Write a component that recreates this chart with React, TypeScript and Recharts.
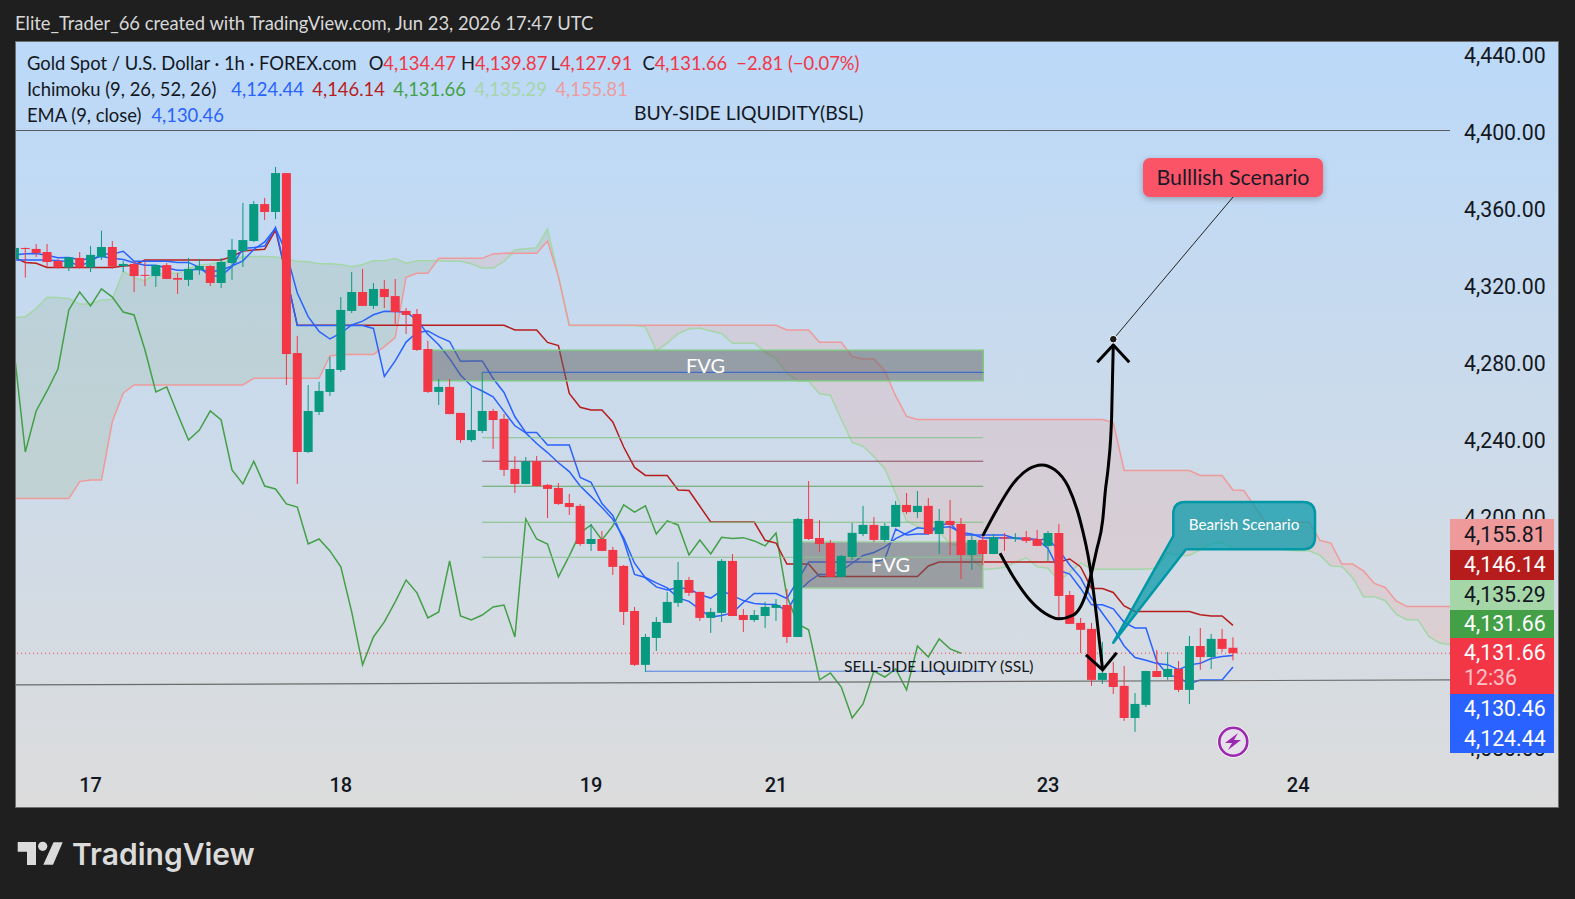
import { ComposedChart, Area, Bar, Line, XAxis, YAxis, ReferenceArea, ReferenceLine, ReferenceDot } from 'recharts';

const opens = [4336.5,4342.2,4341.7,4340.1,4335.4,4332.0,4337.0,4332.0,4337.5,4342.7,
  4332.8,4333.9,4328.2,4327.6,4333.3,4326.6,4325.6,4330.8,4332.8,4324.0,
  4334.4,4340.6,4345.8,4365.0,4360.9,4381.1,4287.6,4236.2,4257.0,4267.4,
  4278.8,4309.5,4319.3,4312.1,4320.9,4317.2,4309.5,4307.9,4289.7,4267.4,
  4270.0,4256.5,4242.4,4247.1,4257.5,4253.4,4227.4,4219.6,4231.4,4219.1,
  4217.5,4209.7,4208.2,4188.4,4191.0,4185.3,4177.0,4153.6,4125.6,4139.6,
  4147.4,4157.8,4169.7,4163.5,4150.0,4152.6,4179.6,4151.5,4148.9,4151.0,
  4155.2,4156.7,4140.1,4201.4,4191.5,4188.9,4171.3,4181.7,4193.6,4198.3,
  4190.5,4197.3,4208.7,4205.0,4208.2,4193.6,4200.4,4198.8,4182.7,4190.5,
  4183.2,4191.9,4191.4,4191.9,4191.0,4187.4,4194.1,4161.9,4147.4,4144.3,
  4117.8,4121.4,4114.7,4098.0,4104.8,4122.4,4119.3,4123.5,4112.6,4135.4,
  4129.7,4139.1,4134.47];
const closes = [4342.2,4341.7,4339.6,4334.9,4332.0,4337.3,4332.0,4338.6,4342.7,4332.5,
  4333.9,4327.6,4327.8,4333.3,4326.1,4325.7,4331.3,4332.8,4324.0,4334.9,
  4341.2,4346.3,4365.0,4360.9,4381.1,4287.1,4236.2,4257.5,4267.9,4279.3,
  4310.0,4319.3,4312.1,4320.9,4316.7,4308.9,4307.4,4289.2,4267.4,4270.0,
  4255.9,4242.4,4247.6,4257.5,4252.8,4226.9,4219.6,4231.4,4218.5,4217.0,
  4209.2,4207.6,4188.4,4191.0,4184.8,4176.5,4153.1,4125.6,4140.1,4147.9,
  4158.3,4169.7,4163.0,4150.0,4153.1,4179.6,4151.0,4148.9,4151.5,4155.7,
  4156.7,4140.1,4201.4,4191.0,4188.4,4171.3,4182.2,4194.2,4198.3,4190.5,
  4197.8,4208.7,4205.0,4208.2,4193.6,4200.4,4198.3,4182.7,4190.5,4183.2,
  4191.9,4191.2,4191.7,4190.0,4187.4,4194.1,4161.4,4146.9,4143.8,4117.8,
  4121.4,4114.1,4098.0,4105.3,4122.4,4119.3,4123.5,4112.6,4135.4,4129.7,
  4139.1,4133.9,4131.66];
const highs = [4343.0,4342.4,4344.3,4344.3,4336.5,4337.3,4340.1,4343.2,4351.2,4345.8,
  4335.4,4335.4,4335.1,4333.4,4334.4,4329.2,4337.0,4336.5,4333.3,4337.0,
  4346.9,4365.6,4366.6,4368.2,4384.3,4381.1,4296.5,4271.0,4272.6,4285.6,
  4316.7,4329.7,4331.3,4324.0,4325.6,4326.1,4311.0,4310.5,4294.0,4274.1,
  4274.1,4256.6,4270.0,4277.6,4258.6,4255.9,4234.1,4233.6,4234.1,4219.6,
  4220.1,4214.4,4209.2,4198.8,4195.2,4186.9,4177.5,4155.7,4141.7,4150.5,
  4163.5,4179.1,4171.3,4163.6,4155.2,4180.6,4183.2,4154.6,4154.1,4158.3,
  4159.8,4165.0,4201.9,4221.1,4200.9,4190.5,4182.7,4199.3,4208.2,4202.4,
  4199.3,4210.8,4214.9,4215.9,4212.3,4206.6,4211.3,4201.9,4193.1,4193.1,
  4193.6,4194.1,4194.0,4195.2,4195.7,4195.2,4198.8,4164.0,4150.0,4147.4,
  4137.5,4127.1,4125.0,4111.0,4122.5,4133.3,4132.3,4127.6,4140.6,4144.8,
  4141.7,4144.3,4139.87];
const lows = [4335.5,4326.8,4337.5,4332.1,4331.4,4330.2,4331.4,4329.7,4336.0,4331.4,
  4329.7,4319.3,4322.4,4321.9,4326.0,4318.3,4322.4,4328.2,4322.4,4321.4,
  4325.6,4332.3,4345.3,4356.7,4357.2,4271.0,4219.6,4235.7,4255.4,4265.3,
  4277.8,4308.4,4312.0,4310.5,4311.0,4302.7,4297.5,4288.7,4266.9,4260.6,
  4255.8,4240.9,4241.4,4246.1,4237.8,4223.7,4214.9,4219.5,4218.4,4201.9,
  4208.7,4203.5,4187.4,4184.8,4184.7,4172.3,4146.3,4125.0,4121.9,4132.8,
  4147.3,4155.7,4161.4,4148.4,4142.2,4147.9,4150.9,4142.7,4147.9,4144.8,
  4148.4,4137.0,4140.0,4190.5,4184.3,4171.2,4171.2,4180.1,4192.5,4189.5,
  4189.5,4197.2,4204.0,4201.9,4193.1,4183.2,4182.7,4170.2,4174.9,4177.5,
  4183.1,4184.8,4189.5,4188.9,4187.3,4179.6,4150.5,4146.8,4131.8,4114.7,
  4115.7,4110.5,4096.5,4090.8,4103.7,4119.2,4117.8,4111.5,4105.3,4123.0,
  4123.5,4132.3,4127.91];

const tenkan = [4335.9,4335.9,4335.9,4335.9,4335.6,4335.1,4332.8,4335.1,4339.0,4339.0,
  4340.5,4335.3,4335.3,4335.3,4335.3,4334.7,4334.7,4332.1,4327.6,4327.6,
  4332.6,4341.9,4342.4,4343.2,4352.8,4327.6,4301.9,4301.9,4301.9,4301.9,
  4301.9,4301.9,4301.9,4300.4,4275.4,4283.5,4293.3,4298.3,4299.1,4296.0,
  4293.6,4283.3,4283.5,4283.5,4274.4,4267.1,4254.5,4246.3,4246.3,4239.8,
  4239.8,4239.8,4223.0,4220.4,4209.4,4203.2,4190.2,4172.6,4171.0,4168.2,
  4165.6,4160.4,4158.6,4154.4,4150.5,4151.3,4152.6,4158.0,4162.7,4162.7,
  4162.7,4160.1,4169.5,4179.1,4179.1,4179.1,4179.1,4179.1,4179.1,4179.1,
  4180.6,4196.2,4193.1,4193.6,4193.6,4198.0,4199.3,4193.1,4193.1,4193.1,
  4193.1,4193.1,4191.3,4190.8,4190.8,4186.1,4174.7,4172.8,4165.3,4156.8,
  4156.8,4154.7,4147.7,4144.8,4144.8,4127.4,4120.4,4119.1,4115.7,4117.8,
  4117.8,4117.8,4124.44];
const kijun = [4337.2,4334.7,4334.2,4332.1,4332.1,4332.1,4332.1,4332.1,4332.1,4332.1,
  4332.8,4333.2,4335.9,4335.9,4335.9,4335.9,4335.9,4335.9,4335.9,4335.9,
  4337.7,4340.6,4341.1,4341.5,4351.5,4327.6,4302.0,4302.0,4302.0,4302.0,
  4302.0,4302.0,4302.0,4302.0,4302.0,4302.0,4302.0,4302.0,4302.0,4302.0,
  4302.0,4302.0,4302.0,4302.0,4302.0,4302.0,4299.6,4299.6,4299.6,4293.1,
  4291.5,4266.6,4259.4,4258.0,4258.0,4251.8,4238.8,4228.2,4224.0,4224.0,
  4224.0,4216.5,4216.2,4208.0,4199.8,4199.8,4199.8,4199.8,4199.8,4190.3,
  4188.9,4178.0,4178.0,4178.0,4171.5,4171.5,4171.5,4171.5,4171.5,4171.5,
  4171.5,4171.5,4171.5,4171.5,4177.0,4179.05,4179.05,4179.05,4179.05,4179.05,
  4179.05,4179.05,4179.05,4179.05,4179.05,4179.05,4179.05,4180.6,4176.5,4165.3,
  4165.3,4163.2,4156.2,4153.35,4153.35,4153.35,4153.35,4153.35,4153.35,4151.6,
  4151.05,4151.05,4146.14];
const ema9 = [4338.6,4339.2,4339.3,4338.4,4337.1,4337.2,4336.1,4336.6,4337.8,4336.8,
  4336.2,4334.5,4333.2,4333.2,4331.8,4330.6,4330.7,4331.1,4329.7,4330.7,
  4332.8,4335.5,4341.4,4345.3,4352.5,4339.4,4318.8,4306.5,4298.8,4294.9,
  4297.9,4302.2,4304.2,4307.5,4309.3,4309.2,4308.8,4304.9,4297.4,4291.9,
  4284.7,4276.2,4270.5,4267.9,4264.9,4257.3,4249.8,4246.1,4240.6,4235.9,
  4230.6,4226.0,4218.5,4213.0,4207.4,4201.2,4191.6,4178.4,4170.7,4166.1,
  4164.5,4165.6,4165.1,4162.1,4160.3,4164.2,4161.6,4159.0,4157.5,4157.1,
  4157.0,4153.6,4163.2,4168.8,4172.7,4172.4,4174.4,4178.4,4182.4,4184.0,
  4186.8,4191.2,4194.0,4196.8,4196.2,4197.0,4197.3,4194.4,4193.6,4191.5,
  4191.6,4191.5,4191.5,4191.2,4190.4,4191.1,4185.2,4177.5,4170.8,4160.2,
  4152.4,4144.7,4135.4,4129.4,4128.0,4126.3,4125.7,4123.1,4125.6,4126.4,
  4128.9,4129.9,4130.46];
const chikou = [4287.1,4236.2,4257.5,4267.9,4279.3,
  4310.0,4319.3,4312.1,4320.9,4316.7,4308.9,4307.4,4289.2,4267.4,4270.0,
  4255.9,4242.4,4247.6,4257.5,4252.8,4226.9,4219.6,4231.4,4218.5,4217.0,
  4209.2,4207.6,4188.4,4191.0,4184.8,4176.5,4153.1,4125.6,4140.1,4147.9,
  4158.3,4169.7,4163.0,4150.0,4153.1,4179.6,4151.0,4148.9,4151.5,4155.7,
  4156.7,4140.1,4201.4,4191.0,4188.4,4171.3,4182.2,4194.2,4198.3,4190.5,
  4197.8,4208.7,4205.0,4208.2,4193.6,4200.4,4198.3,4182.7,4190.5,4183.2,
  4191.9,4191.2,4191.7,4190.0,4187.4,4194.1,4161.4,4146.9,4143.8,4117.8,
  4121.4,4114.1,4098.0,4105.3,4122.4,4119.3,4123.5,4112.6,4135.4,4129.7,
  4139.1,4133.9,4131.66];
const spanA = [4306.0,4306.5,4310.8,4316.6,4316.4,4316.0,4313.1,4313.1,4315.2,4315.5,
  4329.9,4326.8,4325.2,4328.7,4329.0,4329.0,4331.6,4333.3,4333.9,4334.9,
  4335.6,4337.7,4337.7,4337.7,4337.5,4336.6,4335.3,4335.05,4334.0,4334.0,
  4333.6,4332.45,4333.6,4335.55,4335.55,4336.65,4334.25,4335.6,4335.6,4335.6,
  4335.3,4335.3,4334.0,4331.75,4331.75,4335.15,4341.25,4341.75,4342.35,4352.15,
  4327.6,4301.95,4301.95,4301.95,4301.95,4301.95,4301.95,4301.95,4301.2,4288.7,
  4292.75,4297.65,4300.15,4300.55,4299.0,4297.8,4292.65,4292.75,4292.75,4288.2,
  4284.55,4277.05,4272.95,4272.95,4266.45,4265.65,4253.2,4241.2,4239.2,4233.7,
  4227.5,4214.5,4200.4,4197.5,4196.1,4194.8,4188.45,4187.4,4181.2,4175.15,
  4175.55,4176.2,4178.9,4181.25,4176.5,4175.8,4169.05,4173.75,4178.55,4175.3,
  4175.3,4175.3,4175.3,4175.3,4175.3,4176.05,4183.85,4182.3,4182.55,4185.3,
  4188.5,4189.2,4186.1,4186.1,4186.1,4186.1,4186.1,4185.2,4184.9,4184.9,
  4182.6,4176.9,4176.7,4170.9,4161.05,4161.05,4158.95,4151.95,4149.1,4149.1,
  4140.4,4136.9,4136.2,4134.5,4134.7,4134.4,4134.4,4135.29];
const spanB = [4212.0,4212.0,4212.0,4212.0,4212.0,4212.0,4220.8,4221.7,4221.7,4252.0,
  4266.7,4271.0,4271.0,4271.0,4271.0,4271.0,4271.0,4271.0,4271.0,4271.0,
  4271.0,4271.0,4274.5,4274.5,4274.5,4274.5,4274.5,4274.5,4274.5,4286.1,
  4286.9,4286.9,4286.9,4286.9,4290.9,4295.6,4326.9,4329.0,4329.0,4336.8,
  4336.8,4336.8,4336.8,4336.8,4339.1,4339.4,4339.4,4339.4,4339.4,4345.8,
  4327.3,4302.0,4302.0,4302.0,4302.0,4302.0,4302.0,4302.0,4302.0,4302.0,
  4302.0,4302.0,4302.0,4302.0,4302.0,4302.0,4302.0,4302.0,4302.0,4302.0,
  4302.0,4299.6,4299.6,4299.6,4293.2,4293.2,4293.2,4285.85,4284.55,4284.5,
  4278.3,4265.3,4254.65,4253.1,4253.1,4253.1,4253.1,4253.1,4253.1,4253.1,
  4253.1,4253.1,4253.1,4253.1,4253.1,4253.1,4253.1,4253.1,4253.1,4253.1,
  4253.1,4251.5,4226.6,4226.6,4226.6,4226.6,4226.6,4226.6,4226.6,4224.0,
  4224.0,4224.0,4216.45,4216.2,4207.95,4199.75,4199.75,4199.75,4199.75,4199.75,
  4190.25,4188.9,4178.0,4178.0,4174.4,4167.9,4165.8,4158.8,4155.9,4155.9,
  4155.9,4155.9,4155.9,4155.9,4155.9,4155.9,4155.9,4155.81];

const dayTicks = [7, 30, 53, 70, 95, 118];
const dayLabels = ['17', '18', '19', '21', '23', '24'];
const priceTicks = [4080, 4200, 4240, 4280, 4320, 4360, 4400, 4440];

// hand drawn parts of the idea, as bar index + price
const arcUp = [
  { i: 89.0, p: 4192.6 }, { i: 90.28, p: 4206.1 }, { i: 91.81, p: 4219.9 }, { i: 93.19, p: 4227.2 },
  { i: 94.42, p: 4229.5 }, { i: 95.64, p: 4226.9 }, { i: 96.86, p: 4218.2 }, { i: 97.94, p: 4200.9 },
  { i: 98.86, p: 4176.6 }, { i: 99.47, p: 4150.6 }, { i: 100.02, p: 4123.0 },
];
const arrowDown = [{ i: 98.49, p: 4130.8 }, { i: 100.02, p: 4123.0 }, { i: 101.31, p: 4131.9 }];
const arcDown = [
  { i: 90.59, p: 4183.6 }, { i: 91.81, p: 4171.4 }, { i: 93.34, p: 4159.3 }, { i: 94.72, p: 4152.4 },
  { i: 95.95, p: 4149.5 }, { i: 97.33, p: 4151.5 }, { i: 98.55, p: 4163.6 }, { i: 99.47, p: 4185.3 },
  { i: 100.03, p: 4200.9 }, { i: 100.28, p: 4216.5 }, { i: 100.54, p: 4228.6 }, { i: 100.85, p: 4254.5 },
  { i: 101.0, p: 4291.8 },
];
const arrowUp = [{ i: 99.53, p: 4282.8 }, { i: 101.0, p: 4291.8 }, { i: 102.47, p: 4282.8 }];
const calloutLeg = [{ i: 101.0, p: 4294.8 }, { i: 112.03, p: 4368.8 }];

const levelPrices = [4277.6, 4243.6, 4231.4, 4218.4, 4199.7, 4181.5];
const levelColors = ['#2f5fd0', '#84c488', '#8f4c5e', '#5fa661', '#7fc07f', '#8cc28e'];

const tagValues = ['4,155.81', '4,146.14', '4,135.29', '4,131.66', '4,131.66', '4,130.46', '4,124.44'];
const tagFills = ['#ef9a9a', '#b71c1c', '#a5d6a7', '#43a047', '#f23645', '#2962ff', '#2962ff'];
const tagInks = ['#131722', '#fff', '#131722', '#fff', '#fff', '#fff', '#fff'];
const tagHeights = [31, 30, 30, 28, 56, 30, 29];

const rows = spanA.map((a, i) => ({
  i,
  open: opens[i],
  close: closes[i],
  high: highs[i],
  low: lows[i],
  tenkan: tenkan[i],
  kijun: kijun[i],
  ema: ema9[i],
  chikou: chikou[i],
  a,
  b: spanB[i],
  bull: a >= spanB[i] ? [spanB[i], a] : [a, a],
  bear: a < spanB[i] ? [a, spanB[i]] : [a, a],
  range: opens[i] === undefined ? null : [lows[i], highs[i]],
}));

const UI = 'Lato, "Open Sans", sans-serif';
const NUM = 'Roboto, sans-serif';
const UP = '#089981';
const DOWN = '#f23645';
const BODY = 9;

const Candle = (props: any) => {
  const { x, y, width, height, payload } = props;
  if (payload.open === undefined || !height) return null;
  const k = height / (payload.high - payload.low);
  const top = y + (payload.high - Math.max(payload.open, payload.close)) * k;
  const body = Math.max(Math.abs(payload.open - payload.close) * k, 1);
  const color = payload.close >= payload.open ? UP : DOWN;
  const cx = x + width / 2;
  return (
    <g>
      <line x1={cx} x2={cx} y1={y} y2={y + height} stroke={color} strokeWidth={1} />
      <rect x={cx - BODY / 2} y={top} width={BODY} height={body} fill={color} />
    </g>
  );
};

const flat = (s: any) => ({ position: 'absolute', whiteSpace: 'nowrap', ...s }) as any;

export default function App() {
  return (
    <div style={{ position: 'absolute', left: 0, top: 0, width: 1575, height: 899, background: '#1f1f1f', overflow: 'hidden', fontFamily: UI }}>
      <div style={flat({ left: 15, top: 12, color: '#d8d8d8', fontSize: 18.4 })}>
        Elite_Trader_66 created with TradingView.com, Jun 23, 2026 17:47 UTC
      </div>
      <div style={{ position: 'absolute', left: 15, top: 41, width: 1544, height: 767, boxSizing: 'border-box', border: '1px solid #6f6f6f', background: 'linear-gradient(180deg, #bbd9f9 0%, #dcdcdc 100%)' }} />

      <div style={{ position: 'absolute', left: 0, top: 0 }}>
        <ComposedChart width={1575} height={899} data={rows} margin={{ top: 42, right: 16, bottom: 91, left: 16 }}>
          <XAxis
            dataKey="i"
            type="number"
            domain={[0.145, 131.95]}
            allowDataOverflow
            ticks={dayTicks}
            tickFormatter={(v: number) => dayLabels[dayTicks.indexOf(v)]}
            axisLine={false}
            tickLine={false}
            height={39}
            tickMargin={3}
            tick={{ fill: '#131722', fontSize: 20, fontFamily: NUM, fontWeight: 500 }}
          />
          <YAxis
            orientation="right"
            type="number"
            domain={[4071.5, 4449.2]}
            allowDataOverflow
            ticks={priceTicks}
            tickFormatter={(v: number) => v.toLocaleString('en-US', { minimumFractionDigits: 2 })}
            axisLine={false}
            tickLine={false}
            width={109}
            tickMargin={8}
            tick={{ fill: '#131722', fontSize: 21.3, fontFamily: NUM, dy: -4 }}
          />

          <Area dataKey="bull" stroke="none" fill="#91af82" fillOpacity={0.2} isAnimationActive={false} zIndex={1} />
          <Area dataKey="bear" stroke="none" fill="#f59b91" fillOpacity={0.2} isAnimationActive={false} zIndex={1} />
          <Line dataKey="a" stroke="#a5d6a7" strokeWidth={1.5} dot={false} isAnimationActive={false} zIndex={2} />
          <Line dataKey="b" stroke="#ef9a9a" strokeWidth={1.5} dot={false} isAnimationActive={false} zIndex={2} />
          <Line dataKey="chikou" stroke="#43a047" strokeWidth={1.5} dot={false} isAnimationActive={false} zIndex={2} />
          <Line dataKey="kijun" stroke="#b71c1c" strokeWidth={1.5} dot={false} isAnimationActive={false} zIndex={2} />
          <Line dataKey="tenkan" stroke="#2962ff" strokeWidth={1.5} dot={false} isAnimationActive={false} zIndex={2} />
          <Line dataKey="ema" stroke="#2962ff" strokeWidth={1.5} dot={false} isAnimationActive={false} zIndex={2} />

          <ReferenceArea x1={38} x2={89.05} y1={4273.2} y2={4289.0} fill="#616161" fillOpacity={0.5} stroke="#81c784" strokeWidth={1.5} ifOverflow="hidden" zIndex={3}
            label={{ value: 'FVG', position: 'center', fill: '#fff', fontSize: 20, fontFamily: UI }} />
          <ReferenceArea x1={72} x2={89.05} y1={4165.4} y2={4189.6} fill="#616161" fillOpacity={0.5} stroke="#a5d6a7" strokeWidth={1.5} ifOverflow="hidden" zIndex={3}
            label={{ value: 'FVG', position: 'center', fill: '#fff', fontSize: 20, fontFamily: UI }} />

          {levelPrices.map((p, n) => (
            <ReferenceLine key={p} segment={[{ x: 43, y: p }, { x: 89.05, y: p }]} stroke={levelColors[n]} strokeWidth={1} zIndex={3} />
          ))}
          <ReferenceLine segment={[{ x: 58, y: 4122.3 }, { x: 89.05, y: 4122.3 }]} stroke="#4f7fe6" strokeWidth={1} zIndex={3} />
          <ReferenceLine y={4403.2} stroke="#5a5a5a" strokeWidth={1} zIndex={3} />
          <ReferenceLine segment={[{ x: 0.145, y: 4115.2 }, { x: 131.95, y: 4117.8 }]} stroke="#6b6b6b" strokeWidth={1.2} zIndex={3} />
          <ReferenceLine y={4131.66} stroke="#f23645" strokeWidth={1} strokeDasharray="1 3" zIndex={3} />

          <Bar dataKey="range" barSize={BODY} shape={Candle} isAnimationActive={false} zIndex={4} />

          <Line data={arcUp} dataKey="p" type="monotone" stroke="#000" strokeWidth={3} dot={false} isAnimationActive={false} zIndex={5} />
          <Line data={arcDown} dataKey="p" type="monotone" stroke="#000" strokeWidth={3} dot={false} isAnimationActive={false} zIndex={5} />
          <Line data={arrowDown} dataKey="p" stroke="#000" strokeWidth={3} dot={false} isAnimationActive={false} zIndex={5} />
          <Line data={arrowUp} dataKey="p" stroke="#000" strokeWidth={3} dot={false} isAnimationActive={false} zIndex={5} />
          <Line data={calloutLeg} dataKey="p" stroke="#222" strokeWidth={1} dot={false} isAnimationActive={false} zIndex={5} />
          <ReferenceDot x={101.0} y={4294.8} r={3.8} fill="#1a1a1a" stroke="#fff" strokeWidth={1} zIndex={6} />
        </ComposedChart>
      </div>

      <div style={flat({ left: 27, top: 52, color: '#131722', fontSize: 18.4 })}>
        Gold Spot / U.S. Dollar · 1h · FOREX.com
        <span style={{ marginLeft: 12 }}>O</span><span style={{ color: DOWN }}>4,134.47</span>
        <span style={{ marginLeft: 5 }}>H</span><span style={{ color: DOWN }}>4,139.87</span>
        <span style={{ marginLeft: 3 }}>L</span><span style={{ color: DOWN }}>4,127.91</span>
        <span style={{ marginLeft: 10 }}>C</span><span style={{ color: DOWN }}>4,131.66</span>
        <span style={{ marginLeft: 9, color: DOWN }}>−2.81 (−0.07%)</span>
      </div>
      <div style={flat({ left: 27, top: 78, color: '#131722', fontSize: 18.4 })}>
        Ichimoku (9, 26, 52, 26)
        <span style={{ marginLeft: 15, color: '#2962ff' }}>4,124.44</span>
        <span style={{ marginLeft: 8.5, color: '#b71c1c' }}>4,146.14</span>
        <span style={{ marginLeft: 8.5, color: '#43a047' }}>4,131.66</span>
        <span style={{ marginLeft: 8.5, color: '#a5d6a7' }}>4,135.29</span>
        <span style={{ marginLeft: 8.5, color: '#ef9a9a' }}>4,155.81</span>
      </div>
      <div style={flat({ left: 27, top: 104, color: '#131722', fontSize: 18.4 })}>
        EMA (9, close)
        <span style={{ marginLeft: 10, color: '#2962ff' }}>4,130.46</span>
      </div>
      <div style={flat({ left: 634, top: 101, color: '#131722', fontSize: 19.4 })}>BUY-SIDE LIQUIDITY(BSL)</div>
      <div style={flat({ left: 844, top: 657, color: '#131722', fontSize: 15.7 })}>SELL-SIDE LIQUIDITY (SSL)</div>

      <div style={{ position: 'absolute', left: 1143, top: 158, width: 180, height: 39, borderRadius: 7, background: '#fb5466', boxShadow: '0 2px 6px rgba(0,0,0,.25)', color: '#1a1a2a', fontSize: 21.4, lineHeight: '39px', textAlign: 'center' }}>
        Bulllish Scenario
      </div>

      <svg width={1575} height={899} style={{ position: 'absolute', left: 0, top: 0, pointerEvents: 'none' }}>
        <path d="M1185,502 H1303 Q1315,502 1315,514 V537.3 Q1315,549.3 1303,549.3 H1186 L1113.3,642.7 L1173.3,536 V514 Q1173.3,502 1185,502 Z" fill="#0097a7" fillOpacity={0.7} stroke="#0097a7" strokeWidth={2.5} strokeLinejoin="round" />
        <text x={1244} y={530} textAnchor="middle" fill="#fff" fontSize={15.2} fontFamily={UI}>Bearish Scenario</text>
        <circle cx={1233.3} cy={741.7} r={16} fill="#fff" />
        <circle cx={1233.3} cy={741.7} r={14} fill="#e6e0ea" stroke="#9c27b0" strokeWidth={2.6} />
        <path d="M1238,733 L1225,743 L1232,743 L1228,750 L1241,740 L1234,740 Z" fill="#9c27b0" />
        <path d="M17.7,842 H36 V865 H27 V851.7 H17.7 Z M53.5,842.3 H62.7 L53,864.7 H43.3 Z" fill="#dbdbdb" />
        <circle cx={42.7} cy={846.3} r={4.6} fill="#dbdbdb" />
        <text x={72} y={865} fill="#dbdbdb" fontSize={30} fontWeight={600} fontFamily="Inter, sans-serif">TradingView</text>
      </svg>

      <div style={{ position: 'absolute', left: 1450, top: 519, width: 104, fontFamily: NUM, fontSize: 21.3 }}>
        {tagValues.map((v, n) => (
          <div key={n} style={{ height: tagHeights[n], background: tagFills[n], color: tagInks[n], paddingLeft: 14, boxSizing: 'border-box', lineHeight: n === 4 ? '30px' : `${tagHeights[n]}px` }}>
            {v}
            {n === 4 && <div style={{ color: '#ffc2c8', lineHeight: '20px' }}>12:36</div>}
          </div>
        ))}
      </div>
    </div>
  );
}
